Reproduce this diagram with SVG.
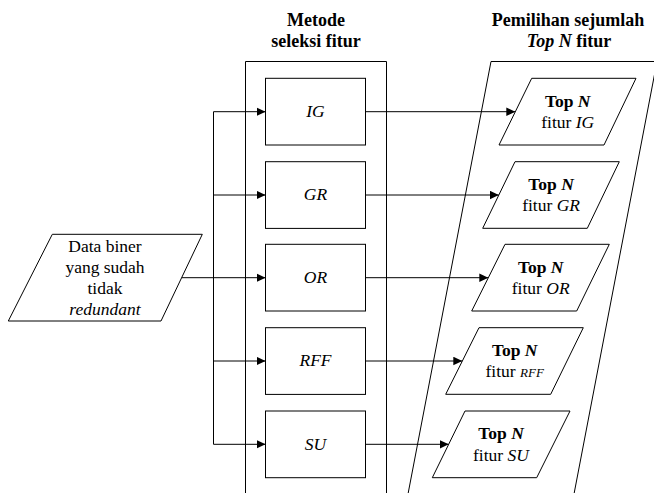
<svg xmlns="http://www.w3.org/2000/svg" width="654" height="493" viewBox="0 0 654 493">
<style>
text { font-family: 'Liberation Serif', 'Times New Roman', serif; font-size: 17.5px; fill: #000; text-anchor: middle; }
.h { font-weight: bold; font-size: 18px; }
.i { font-style: italic; }
.s { font-size: 13px; font-style: italic; }
.shape { fill: #fff; stroke: #000; stroke-width: 1; }
.frame { fill: none; stroke: #000; stroke-width: 1; }
.con { fill: none; stroke: #000; stroke-width: 1; }
</style>
<defs>
<marker id="arr" markerUnits="userSpaceOnUse" markerWidth="10" markerHeight="9" refX="9" refY="4.3" orient="auto">
<path d="M0,0 L9,4.3 L0,8.6 z" fill="#000"/>
</marker>
</defs>
<rect width="654" height="493" fill="#fff"/>

<g id="header-metode">
<text class="h" x="316" y="26">Metode</text>
<text class="h" x="316" y="47">seleksi fitur</text>
</g>
<g id="header-top">
<text class="h" x="568" y="26">Pemilihan sejumlah</text>
<text class="h" x="569" y="47"><tspan font-style="italic">Top N</tspan> fitur</text>
</g>

<g id="frame-metode">
<path class="frame" d="M245.5,494 V61.5 H386.5 V494"/>
</g>
<g id="frame-top">
<path class="frame" d="M408,494 L491,61.5 L657,61.5 L574,494"/>
</g>

<g id="connectors">
<path class="con" d="M181.6,277.7 H213.5" stroke-width="2"/>
<path class="con" d="M213.5,111.7 V444.3"/>
<path class="con" d="M213.5,111.7 H265.5" marker-end="url(#arr)"/>
<path class="con" d="M213.5,195 H265.5" marker-end="url(#arr)"/>
<path class="con" d="M213.5,277.7 H265.5" marker-end="url(#arr)"/>
<path class="con" d="M213.5,361 H265.5" marker-end="url(#arr)"/>
<path class="con" d="M213.5,444.3 H265.5" marker-end="url(#arr)"/>
<path class="con" d="M365.5,111.7 H515.3" marker-end="url(#arr)"/>
<path class="con" d="M365.5,195 H498.8" marker-end="url(#arr)"/>
<path class="con" d="M365.5,277.7 H488.3" marker-end="url(#arr)"/>
<path class="con" d="M365.5,361 H462.3" marker-end="url(#arr)"/>
<path class="con" d="M365.5,444.3 H448.7" marker-end="url(#arr)"/>
</g>

<g id="data">
<polygon class="shape" points="52.3,234.3 202.3,234.3 161,321 8.3,321"/>
<text x="105" y="251.5">Data biner</text>
<text x="105" y="272.5">yang sudah</text>
<text x="105" y="293.5">tidak</text>
<text x="105" y="315" class="i">redundant</text>
</g>

<g id="box-ig">
<rect class="shape" x="265.5" y="78.3" width="100" height="66.7"/>
<text class="i" x="315.5" y="117">IG</text>
</g>
<g id="box-gr">
<rect class="shape" x="265.5" y="161.7" width="100" height="66.7"/>
<text class="i" x="315.5" y="200.3">GR</text>
</g>
<g id="box-or">
<rect class="shape" x="265.5" y="244.3" width="100" height="66.7"/>
<text class="i" x="315.5" y="283">OR</text>
</g>
<g id="box-rff">
<rect class="shape" x="265.5" y="327.7" width="100" height="66.7"/>
<text class="i" x="315.5" y="366.3">RFF</text>
</g>
<g id="box-su">
<rect class="shape" x="265.5" y="411" width="100" height="66.7"/>
<text class="i" x="315.5" y="449.6">SU</text>
</g>

<g id="top-ig">
<polygon class="shape" points="531.7,78.3 636,78.3 604,145 499,145"/>
<text x="567.7" y="106.7"><tspan font-weight="bold">Top </tspan><tspan font-weight="bold" font-style="italic">N</tspan></text>
<text x="567.7" y="128">fitur <tspan font-style="italic">IG</tspan></text>
</g>
<g id="top-gr">
<polygon class="shape" points="515,161.7 619.3,161.7 587.3,228.3 482.7,228.3"/>
<text x="551.1" y="190"><tspan font-weight="bold">Top </tspan><tspan font-weight="bold" font-style="italic">N</tspan></text>
<text x="551.1" y="211.3">fitur <tspan font-style="italic">GR</tspan></text>
</g>
<g id="top-or">
<polygon class="shape" points="505,244.3 609.3,244.3 576.7,311 471.7,311"/>
<text x="540.7" y="272.7"><tspan font-weight="bold">Top </tspan><tspan font-weight="bold" font-style="italic">N</tspan></text>
<text x="540.7" y="294">fitur <tspan font-style="italic">OR</tspan></text>
</g>
<g id="top-rff">
<polygon class="shape" points="479,327.7 583.3,327.7 550.7,394.3 445.7,394.3"/>
<text x="514.7" y="356"><tspan font-weight="bold">Top </tspan><tspan font-weight="bold" font-style="italic">N</tspan></text>
<text x="514.7" y="377.3">fitur <tspan class="s">RFF</tspan></text>
</g>
<g id="top-su">
<polygon class="shape" points="465,411 570,411 536.7,477.7 432.3,477.7"/>
<text x="501" y="439.3"><tspan font-weight="bold">Top </tspan><tspan font-weight="bold" font-style="italic">N</tspan></text>
<text x="501" y="460.6">fitur <tspan font-style="italic">SU</tspan></text>
</g>
</svg>
